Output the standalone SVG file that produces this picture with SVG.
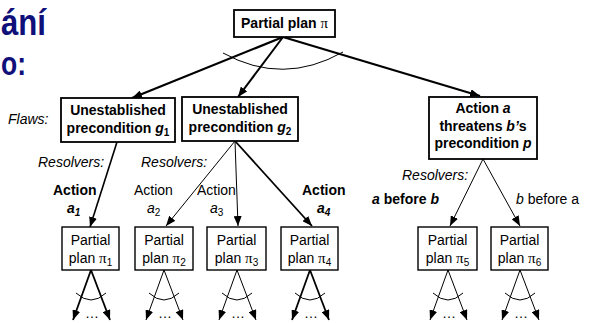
<svg xmlns="http://www.w3.org/2000/svg" width="590" height="323" viewBox="0 0 590 323">
<style>
.t{font-family:"Liberation Sans",Arial,sans-serif;font-size:14px;fill:#000}
.b{font-weight:bold}
.i{font-style:italic}
.c{text-anchor:middle}
.pi{font-family:"Liberation Serif","Times New Roman",serif;font-weight:normal;font-style:normal}
.box{fill:#fff;stroke:#000;stroke-width:1.8}
.sbox{fill:#fff;stroke:#000;stroke-width:1.4}
.ln{fill:none;stroke:#000}
.title{font-family:"Liberation Sans",Arial,sans-serif;font-weight:bold;fill:#10107a}
</style>
<defs>
<marker id="ah" markerUnits="userSpaceOnUse" markerWidth="10" markerHeight="8" refX="10" refY="4" orient="auto">
<path d="M0,0 L10,4 L0,8 z" fill="#000"/>
</marker>
</defs>

<g id="title">
<text class="title" x="1" y="35" font-size="36" textLength="45" lengthAdjust="spacingAndGlyphs">ání</text>
<text class="title" x="1" y="75" font-size="34" textLength="25" lengthAdjust="spacingAndGlyphs">o:</text>
</g>

<g id="connectors">
<path class="ln" stroke-width="2.2" marker-end="url(#ah)" d="M283,37 L132,98"/>
<path class="ln" stroke-width="2" marker-end="url(#ah)" d="M283,37 L238,97"/>
<path class="ln" stroke-width="2.2" marker-end="url(#ah)" d="M283,37 L480,96"/>
<path class="ln" stroke-width="1" d="M223,53 Q283,86 343,52"/>

<path class="ln" stroke-width="1.6" marker-end="url(#ah)" d="M117,142 L90,227"/>
<path class="ln" stroke-width="1" marker-end="url(#ah)" d="M235,141 L166,226"/>
<path class="ln" stroke-width="1" marker-end="url(#ah)" d="M235,141 L238,226"/>
<path class="ln" stroke-width="1.8" marker-end="url(#ah)" d="M235,141 L312,226"/>
<path class="ln" stroke-width="1" marker-end="url(#ah)" d="M483,159 L450,226"/>
<path class="ln" stroke-width="1" marker-end="url(#ah)" d="M483,159 L520,226"/>

<g id="sub1">
<path class="ln" stroke-width="1.8" marker-end="url(#ah)" d="M91,270 L73,320"/>
<path class="ln" stroke-width="1.8" marker-end="url(#ah)" d="M91,270 L110,320"/>
<path class="ln" stroke-width="1" d="M76,293 Q91,307 106,293"/>
</g>
<g id="sub2">
<path class="ln" stroke-width="1" marker-end="url(#ah)" d="M164,270 L146,320"/>
<path class="ln" stroke-width="1" marker-end="url(#ah)" d="M164,270 L183,320"/>
<path class="ln" stroke-width="1" d="M149,293 Q164,307 179,293"/>
</g>
<g id="sub3">
<path class="ln" stroke-width="1" marker-end="url(#ah)" d="M237,270 L219,320"/>
<path class="ln" stroke-width="1" marker-end="url(#ah)" d="M237,270 L256,320"/>
<path class="ln" stroke-width="1" d="M222,293 Q237,307 252,293"/>
</g>
<g id="sub4">
<path class="ln" stroke-width="1.8" marker-end="url(#ah)" d="M310,270 L292,320"/>
<path class="ln" stroke-width="1.8" marker-end="url(#ah)" d="M310,270 L329,320"/>
<path class="ln" stroke-width="1" d="M295,293 Q310,307 325,293"/>
</g>
<g id="sub5">
<path class="ln" stroke-width="1" marker-end="url(#ah)" d="M448,270 L430,320"/>
<path class="ln" stroke-width="1" marker-end="url(#ah)" d="M448,270 L467,320"/>
<path class="ln" stroke-width="1" d="M433,293 Q448,307 463,293"/>
</g>
<g id="sub6">
<path class="ln" stroke-width="1" marker-end="url(#ah)" d="M520,270 L502,320"/>
<path class="ln" stroke-width="1" marker-end="url(#ah)" d="M520,270 L539,320"/>
<path class="ln" stroke-width="1" d="M505,293 Q520,307 535,293"/>
</g>
<g id="dots">
<text class="t c" x="92" y="318">…</text>
<text class="t c" x="165" y="318">…</text>
<text class="t c" x="238" y="318">…</text>
<text class="t c" x="311" y="318">…</text>
<text class="t c" x="449" y="318">…</text>
<text class="t c" x="521" y="318">…</text>
</g>
</g>

<g id="root">
<rect class="box" x="234" y="10" width="101" height="27"/>
<text class="t b c" x="284.5" y="28">Partial plan <tspan class="pi" font-size="15">π</tspan></text>
</g>

<g id="flaw1">
<rect class="box" x="61" y="98" width="114" height="44"/>
<text class="t b c" x="118" y="115">Unestablished</text>
<text class="t b c" x="118" y="133">precondition <tspan class="i">g</tspan><tspan font-size="10" dy="3">1</tspan></text>
</g>

<g id="flaw2">
<rect class="box" x="182" y="97" width="116" height="44"/>
<text class="t b c" x="240" y="114">Unestablished</text>
<text class="t b c" x="240" y="132">precondition <tspan class="i">g</tspan><tspan font-size="10" dy="3">2</tspan></text>
</g>

<g id="flaw3">
<rect class="box" x="429" y="97" width="108" height="62"/>
<text class="t b c" x="483" y="113">Action <tspan class="i">a</tspan></text>
<text class="t b c" x="483" y="131">threatens <tspan class="i">b’</tspan>s</text>
<text class="t b c" x="483" y="148">precondition <tspan class="i">p</tspan></text>
</g>

<g id="plan1">
<rect class="sbox" x="62" y="227" width="57" height="43"/>
<text class="t c" x="90.5" y="245">Partial</text>
<text class="t c" x="90.5" y="263">plan <tspan class="pi" font-size="15">π</tspan><tspan font-size="10" dy="3">1</tspan></text>
</g>
<g id="plan2">
<rect class="sbox" x="135" y="227" width="58" height="43"/>
<text class="t c" x="164" y="245">Partial</text>
<text class="t c" x="164" y="263">plan <tspan class="pi" font-size="15">π</tspan><tspan font-size="10" dy="3">2</tspan></text>
</g>
<g id="plan3">
<rect class="sbox" x="207" y="227" width="59" height="43"/>
<text class="t c" x="236.5" y="245">Partial</text>
<text class="t c" x="236.5" y="263">plan <tspan class="pi" font-size="15">π</tspan><tspan font-size="10" dy="3">3</tspan></text>
</g>
<g id="plan4">
<rect class="sbox" x="281" y="227" width="57" height="43"/>
<text class="t c" x="309.5" y="245">Partial</text>
<text class="t c" x="309.5" y="263">plan <tspan class="pi" font-size="15">π</tspan><tspan font-size="10" dy="3">4</tspan></text>
</g>
<g id="plan5">
<rect class="sbox" x="418" y="227" width="59" height="43"/>
<text class="t c" x="447.5" y="245">Partial</text>
<text class="t c" x="447.5" y="263">plan <tspan class="pi" font-size="15">π</tspan><tspan font-size="10" dy="3">5</tspan></text>
</g>
<g id="plan6">
<rect class="sbox" x="491" y="227" width="57" height="43"/>
<text class="t c" x="519.5" y="245">Partial</text>
<text class="t c" x="519.5" y="263">plan <tspan class="pi" font-size="15">π</tspan><tspan font-size="10" dy="3">6</tspan></text>
</g>

<g id="labels">
<text class="t i" x="8" y="124">Flaws:</text>
<text class="t i" x="38" y="167">Resolvers:</text>
<text class="t i" x="141" y="167">Resolvers:</text>
<text class="t i" x="402" y="180">Resolvers:</text>
<text class="t b" x="53" y="195">Action</text>
<text class="t b i" x="67" y="213">a<tspan font-size="10" dy="3">1</tspan></text>
<text class="t" x="134" y="195">Action</text>
<text class="t i" x="147" y="213">a<tspan font-size="10" dy="3" font-style="normal">2</tspan></text>
<text class="t" x="197" y="195">Action</text>
<text class="t i" x="210" y="213">a<tspan font-size="10" dy="3" font-style="normal">3</tspan></text>
<text class="t b" x="302" y="195">Action</text>
<text class="t b i" x="317" y="213">a<tspan font-size="10" dy="3">4</tspan></text>
<text class="t b" x="372" y="204"><tspan class="i">a</tspan> before <tspan class="i">b</tspan></text>
<text class="t" x="516" y="204"><tspan class="i">b</tspan> before a</text>
</g>
</svg>
